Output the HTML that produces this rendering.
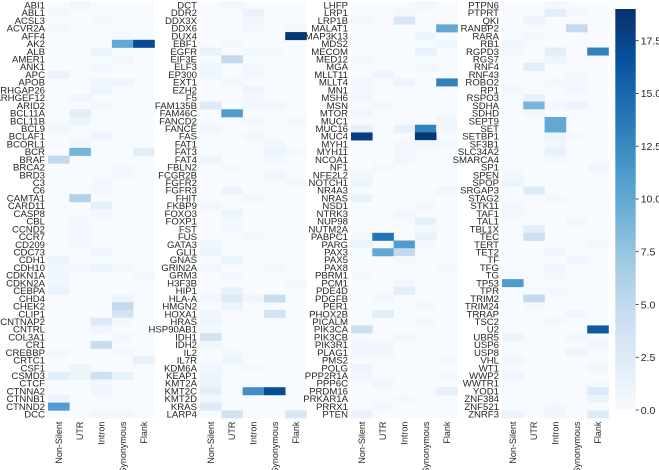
<!DOCTYPE html>
<html><head><meta charset="utf-8"><style>
html,body{margin:0;padding:0;background:#fff;}
svg{display:block;font-family:"Liberation Sans",Arial,sans-serif;}
</style></head><body>
<svg id="chart" width="659" height="470" viewBox="0 0 659 470" xmlns="http://www.w3.org/2000/svg">
<defs><linearGradient id="cbgrad" x1="0" y1="1" x2="0" y2="0">
<stop offset="0" stop-color="#f7fbff"/><stop offset="0.125" stop-color="#deebf7"/><stop offset="0.25" stop-color="#c6dbef"/><stop offset="0.375" stop-color="#9ecae1"/><stop offset="0.5" stop-color="#6baed6"/><stop offset="0.625" stop-color="#4292c6"/><stop offset="0.75" stop-color="#2171b5"/><stop offset="0.875" stop-color="#08519c"/><stop offset="1" stop-color="#08306b"/>
</linearGradient></defs>
</svg>
<script>
const columns = ["Non-Silent","UTR","Intron","Synonymous","Flank"];
const genes1 = ["ABI1","ABL1","ACSL3","ACVR2A","AFF4","AK2","ALB","AMER1","ANK1","APC","APOB","ARHGAP26","ARHGEF12","ARID2","BCL11A","BCL11B","BCL9","BCLAF1","BCORL1","BCR","BRAF","BRCA2","BRD3","C3","C6","CAMTA1","CARD11","CASP8","CBL","CCND2","CCR7","CD209","CDC73","CDH1","CDH10","CDKN1A","CDKN2A","CEBPA","CHD4","CHEK2","CLIP1","CNTNAP2","CNTRL","COL3A1","CR1","CREBBP","CRTC1","CSF1","CSMD3","CTCF","CTNNA2","CTNNB1","CTNND2","DCC"];
const genes2 = ["DCT","DDR2","DDX3X","DDX6","DUX4","EBF1","EGFR","EIF3E","ELF3","EP300","EXT1","EZH2","F5","FAM135B","FAM46C","FANCD2","FANCE","FAS","FAT1","FAT3","FAT4","FBLN2","FCGR2B","FGFR2","FGFR3","FHIT","FKBP9","FOXO3","FOXP1","FST","FUS","GATA3","GLI1","GNAS","GRIN2A","GRM3","H3F3B","HIP1","HLA-A","HMGN2","HOXA1","HRAS","HSP90AB1","IDH1","IDH2","IL2","IL7R","KDM6A","KEAP1","KMT2A","KMT2C","KMT2D","KRAS","LARP4"];
const genes3 = ["LHFP","LRP1","LRP1B","MALAT1","MAP3K13","MDS2","MECOM","MED12","MGA","MLLT11","MLLT4","MN1","MSH6","MSN","MTOR","MUC1","MUC16","MUC4","MYH1","MYH11","NCOA1","NF1","NFE2L2","NOTCH1","NR4A3","NRAS","NSD1","NTRK3","NUP98","NUTM2A","PABPC1","PARG","PAX3","PAX5","PAX8","PBRM1","PCM1","PDE4D","PDGFB","PER1","PHOX2B","PICALM","PIK3CA","PIK3CB","PIK3R1","PLAG1","PMS2","POLG","PPP2R1A","PPP6C","PRDM16","PRKAR1A","PRRX1","PTEN"];
const genes4 = ["PTPN6","PTPRT","QKI","RANBP2","RARA","RB1","RGPD3","RGS7","RNF4","RNF43","ROBO2","RP1","RSPO3","SDHA","SDHD","SEPT9","SET","SETBP1","SF3B1","SLC34A2","SMARCA4","SP1","SPEN","SPOP","SRGAP3","STAG2","STK11","TAF1","TAL1","TBL1X","TEC","TERT","TET2","TF","TFG","TG","TP53","TPR","TRIM2","TRIM24","TRRAP","TSC2","U2","UBR5","USP6","USP8","VHL","WT1","WWP2","WWTR1","YOD1","ZNF384","ZNF521","ZNRF3"];
// sparse cells: [rowIndex, columnIndex, value]; all other cells are 0
const cells1 = [[0,1,0.7],[1,0,0.6],[2,2,0.5],[3,0,0.5],[4,3,0.4],[5,3,10],[5,4,17],[6,2,1],[7,3,0.6],[8,2,0.6],[9,0,1.2],[10,2,0.7],[10,3,1],[11,2,1],[12,1,0.7],[13,2,0.4],[14,1,2],[15,1,1],[16,0,0.8],[17,2,1],[18,1,0.6],[19,1,9],[19,4,2],[20,0,5],[21,3,0.5],[22,3,0.5],[23,2,0.5],[24,2,0.5],[25,1,6],[26,2,1.7],[27,2,0.6],[28,1,0.5],[29,1,0.5],[30,1,0.5],[31,1,0.5],[32,2,0.7],[33,0,1],[34,0,0.6],[34,1,0.5],[34,2,1],[34,3,0.5],[35,0,0.7],[35,4,0.5],[36,0,0.7],[37,0,1.3],[38,3,1],[39,3,5],[40,3,3.5],[41,2,2.5],[41,3,0.5],[42,2,0.7],[43,3,0.5],[44,2,4.5],[45,0,0.6],[45,3,0.5],[46,4,1.5],[47,1,1],[48,0,2],[48,1,1],[48,2,4],[48,3,1.5],[49,2,0.6],[50,2,0.8],[51,0,1.2],[52,0,11],[53,2,0.6],[53,3,0.6]];
const cells2 = [[0,1,0.5],[1,2,1.3],[2,2,0.6],[3,2,0.6],[3,4,0.5],[4,4,18.5],[5,1,0.6],[6,0,1.3],[6,2,0.6],[6,3,0.5],[7,1,5],[8,0,0.7],[8,2,0.6],[9,0,0.7],[9,2,0.6],[10,1,0.6],[11,2,1],[12,2,0.5],[13,0,2.5],[13,2,0.6],[13,3,0.6],[14,1,11],[15,2,0.5],[15,4,0.5],[16,0,0.7],[17,2,0.6],[18,3,0.7],[19,3,1],[19,4,0.5],[20,0,1],[20,3,0.5],[21,1,0.5],[22,3,0.7],[23,4,0.6],[24,1,1],[25,2,0.6],[26,0,0.6],[27,1,1],[28,1,0.5],[29,1,0.5],[30,2,0.6],[31,0,0.8],[32,0,1],[33,1,1],[34,0,0.6],[34,3,0.5],[35,1,0.6],[36,4,0.6],[37,1,1.3],[38,0,0.6],[38,1,2.5],[38,2,0.8],[38,3,4.5],[39,1,1],[40,0,0.7],[40,3,3.5],[41,0,1],[42,0,0.5],[43,0,3.5],[44,0,0.7],[45,1,0.6],[46,1,1],[47,0,0.7],[47,2,0.5],[48,0,1],[49,0,1],[50,0,2],[50,2,12],[50,3,17],[51,0,0.8],[52,0,2.5],[53,1,3.5],[53,4,3]];
const cells3 = [[0,3,0.6],[1,2,0.5],[2,0,0.6],[2,2,3],[3,4,10],[4,3,1],[5,4,0.7],[6,3,1.3],[7,0,0.6],[8,3,0.6],[9,1,1],[10,0,0.6],[10,2,1],[10,4,13],[11,0,0.6],[12,0,0.6],[13,1,0.5],[14,0,0.7],[15,4,0.8],[16,0,1.5],[16,2,1.5],[16,3,13],[16,4,0.6],[17,0,18],[17,3,18.5],[18,2,0.6],[18,3,0.8],[18,4,0.5],[19,2,0.6],[20,2,0.6],[21,1,0.5],[22,0,0.6],[23,0,1],[24,4,0.7],[25,0,1.2],[26,3,0.6],[27,2,0.6],[28,3,1.5],[29,3,0.5],[30,0,0.6],[30,1,14],[30,3,1.3],[31,0,1],[31,2,11],[31,3,0.5],[32,1,10],[32,2,5],[33,2,0.5],[34,4,0.5],[35,0,0.5],[36,2,0.6],[37,2,2],[38,1,0.6],[39,3,0.6],[40,1,2],[41,3,0.6],[42,0,4],[43,2,0.6],[44,0,0.8],[44,1,0.6],[45,0,0.8],[45,1,0.8],[46,4,0.5],[47,0,1],[48,0,0.6],[48,4,0.5],[49,1,0.7],[50,4,1.7],[51,2,0.5],[52,1,0.5],[53,0,1.3]];
const cells4 = [[0,2,0.5],[1,2,2],[1,3,0.6],[2,1,1],[3,3,5],[4,1,0.5],[5,0,0.7],[6,0,0.6],[6,2,2],[6,4,13],[7,2,1],[8,1,2],[9,3,0.5],[10,2,0.5],[10,3,0.5],[11,0,0.6],[11,3,0.5],[12,1,1.5],[13,1,9],[13,2,0.5],[13,3,1],[14,1,0.6],[15,2,10],[16,2,10],[17,2,1],[17,3,0.5],[18,2,0.7],[19,2,1.5],[20,2,0.5],[21,4,0.7],[22,0,0.6],[23,0,1],[24,1,2.5],[25,2,0.5],[26,0,0.6],[27,0,0.6],[28,3,0.6],[29,1,2],[30,1,4],[31,4,0.6],[32,2,0.7],[33,3,0.7],[34,2,0.7],[35,0,0.5],[35,2,0.5],[36,0,11],[37,2,0.5],[38,1,5],[39,1,0.5],[40,3,0.7],[41,2,0.5],[42,4,16],[43,0,1],[43,3,0.6],[44,4,0.7],[45,3,1],[46,0,0.6],[47,4,0.6],[48,0,0.7],[49,4,0.5],[50,4,2.5],[51,4,1],[52,2,0.5],[53,0,1],[53,2,0.8],[53,4,2.5]];
const cbTicks = [0,2.5,5,7.5,10,12.5,15,17.5];
const vmax = 19;

const SVGNS="http://www.w3.org/2000/svg";
const svg=document.getElementById('chart');
const panelX=[48,200,351,502], panelW=106.5, topY=1.2, rowH=7.72, cellW=panelW/5;
const stops=[[0,[247,251,255]],[0.125,[222,235,247]],[0.25,[198,219,239]],[0.375,[158,202,225]],[0.5,[107,174,214]],[0.625,[66,146,198]],[0.75,[33,113,181]],[0.875,[8,81,156]],[1,[8,48,107]]];
function color(v){let t=Math.max(0,Math.min(1,v/vmax));for(let i=1;i<stops.length;i++){if(t<=stops[i][0]){const a=stops[i-1],b=stops[i],f=(t-a[0])/(b[0]-a[0]);const c=a[1].map((x,k)=>Math.round(x+(b[1][k]-x)*f));return 'rgb('+c.join(',')+')';}}return 'rgb(8,48,107)';}
function yScale(r){return topY+r*rowH;}
function xScale(p,c){return panelX[p]+c*cellW;}
function mk(tag,attrs){const e=document.createElementNS(SVGNS,tag);for(const k in attrs)e.setAttribute(k,attrs[k]);return e;}
const genesAll=[genes1,genes2,genes3,genes4], cellsAll=[cells1,cells2,cells3,cells4];
genesAll.forEach((genes,p)=>{
  const g=mk('g',{});
  
  
  svg.appendChild(g);
  const bg=mk('rect',{x:xScale(p,0),y:yScale(0),width:panelW,height:genes.length*rowH,fill:color(0)});
  
  
  g.appendChild(bg);
  cellsAll[p].forEach(([r,c,v])=>{
    const rc=mk('rect',{x:xScale(p,c),y:yScale(r),width:cellW+0.3,height:rowH+0.3,fill:color(v)});
    
    
    g.appendChild(rc);
  });
  genes.forEach((name,r)=>{
    const t=mk('text',{x:xScale(p,0)-3,y:yScale(r)+rowH/2+3.4,'text-anchor':'end','font-size':'9.6',fill:'#262626'});
    t.textContent=name;
    
    
    g.appendChild(t);
  });
  columns.forEach((name,c)=>{
    const cx=xScale(p,c)+cellW/2+3.3, cy=yScale(genes.length)+3.5;
    const t=mk('text',{x:cx,y:cy,'text-anchor':'end','font-size':'9',fill:'#262626',transform:'rotate(-90 '+cx+' '+cy+')'});
    t.textContent=name;
    
    
    g.appendChild(t);
  });
});
const cbX=615.3, cbW=20.4, cbBottom=410, cbTop=9;
function cbY(v){return cbBottom-(v/vmax)*(cbBottom-cbTop);}
const cb=mk('rect',{x:cbX,y:cbTop,width:cbW,height:cbBottom-cbTop,fill:'url(#cbgrad)'});


svg.appendChild(cb);
cbTicks.forEach(v=>{
  const y=cbY(v);
  const l=mk('line',{x1:cbX+cbW,x2:cbX+cbW+3,y1:y,y2:y,stroke:'#262626','stroke-width':0.8});
  
  
  svg.appendChild(l);
  const t=mk('text',{x:cbX+cbW+5,y:y+3.8,'font-size':'10.5',fill:'#262626'});
  t.textContent=v.toFixed(1);
  
  
  svg.appendChild(t);
});
</script>
</body></html>
